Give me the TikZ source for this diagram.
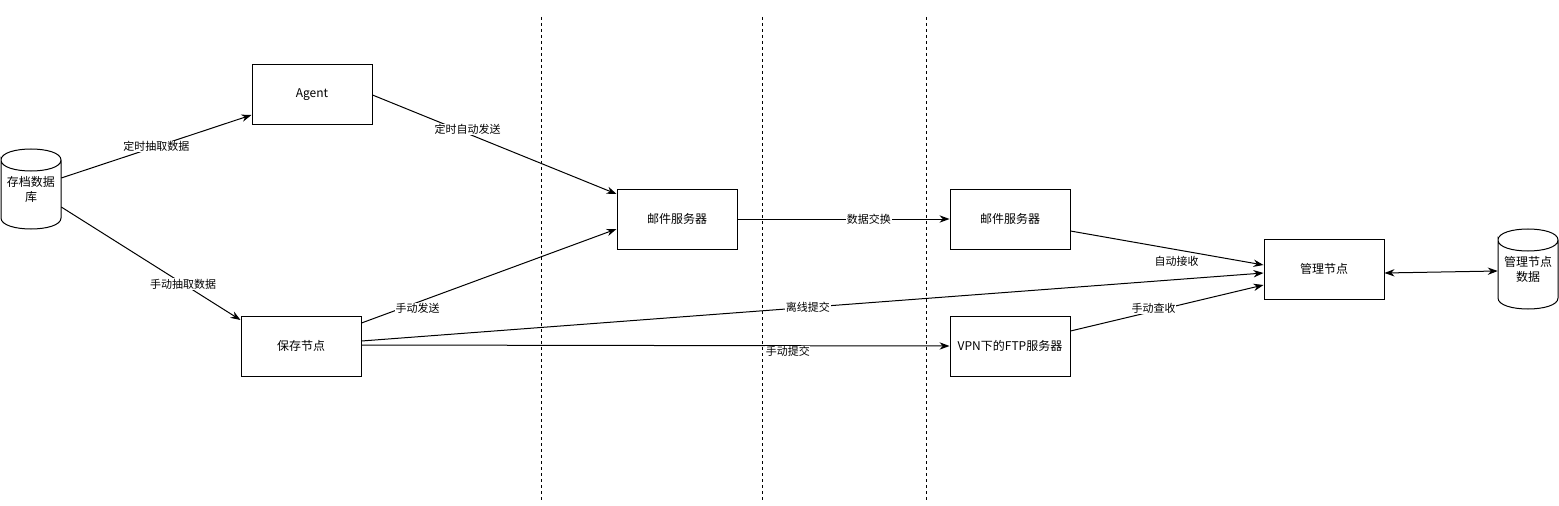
\documentclass[tikz,border=0pt]{standalone}
\usepackage{fontspec}
\setmainfont{Noto Sans CJK SC}
\usetikzlibrary{arrows.meta,calc}
\begin{document}
\begin{tikzpicture}[x=0.75pt,y=-0.75pt,
  box/.style={draw,line width=0.75pt,minimum width=90pt,minimum height=45pt,inner sep=0pt,font=\fontsize{9pt}{11pt}\selectfont},
  dbtext/.style={minimum width=45pt,minimum height=60pt,inner sep=0pt,align=center,font=\fontsize{9pt}{11.25pt}\selectfont},
  conn/.style={line width=0.75pt,-{Stealth[length=7.5pt,width=5.5pt]}},
  biconn/.style={line width=0.75pt,{Stealth[length=7.5pt,width=5.5pt]}-{Stealth[length=7.5pt,width=5.5pt]}},
  lbl/.style={fill=white,inner sep=0.5pt,font=\fontsize{8.25pt}{10pt}\selectfont},
  sepline/.style={line width=0.75pt,dash pattern=on 2.25pt off 2.25pt},
  dbshape/.style={line width=0.75pt,fill=white}]
\useasboundingbox (0,0) rectangle (1559,506);

% separators
\coordinate (s1t) at (541,17); \coordinate (s1b) at (541,500);
\coordinate (s2t) at (762,17); \coordinate (s2b) at (762,500);
\coordinate (s3t) at (926,17); \coordinate (s3b) at (926,500);
\draw[sepline] (s1t) -- (s1b);
\draw[sepline] (s2t) -- (s2b);
\draw[sepline] (s3t) -- (s3b);

% cylinders
\draw[dbshape] (1,160) .. controls (1,145.33) and (61,145.33) .. (61,160)
  .. controls (61,174.67) and (1,174.67) .. (1,160) -- (1,218)
  .. controls (1,232.67) and (61,232.67) .. (61,218) -- (61,160);
\node[dbtext] (db1) at (31,189) {存档数据\\库};

\draw[dbshape] (1498,240) .. controls (1498,225.33) and (1558,225.33) .. (1558,240)
  .. controls (1558,254.67) and (1498,254.67) .. (1498,240) -- (1498,298)
  .. controls (1498,312.67) and (1558,312.67) .. (1558,298) -- (1558,240);
\node[dbtext] (db2) at (1528,269) {管理节点\\数据};

% boxes
\node[box] (agent) at (312,95) {Agent};
\node[box] (mail1) at (677,219) {邮件服务器};
\node[box] (mail2) at (1010,219) {邮件服务器};
\node[box] (mgmt) at (1324,269) {管理节点};
\node[box] (save) at (301,346) {保存节点};
\node[box] (vpn) at (1010,346) {VPN下的FTP服务器};

% connectors
\draw[conn] ($(db1.east)+(0,-11)$) -- node[lbl,pos=0.5]{定时抽取数据} ($(agent.west)+(0,20)$);
\draw[conn] ($(db1.east)+(0,18)$) -- node[lbl,pos=0.68]{手动抽取数据} ($(save.west)+(0,-26)$);
\draw[conn] (agent.east) -- node[lbl,pos=0.39,yshift=3pt]{定时自动发送} ($(mail1.west)+(0,-25)$);
\draw[conn] ($(save.east)+(0,-23)$) -- node[lbl,pos=0.22,yshift=-4.5pt]{手动发送} ($(mail1.west)+(0,10)$);
\draw[conn] ($(save.east)+(0,-5)$) -- node[lbl,pos=0.495]{离线提交} ($(mgmt.west)+(0,4)$);
\draw[conn] ($(save.east)+(0,-1)$) -- node[lbl,pos=0.725,yshift=-4.5pt]{手动提交} (vpn.west);
\draw[conn] (mail1.east) -- node[lbl,pos=0.62]{数据交换} (mail2.west);
\draw[conn] ($(mail2.east)+(0,12)$) -- node[lbl,pos=0.55,yshift=-9pt]{自动接收} ($(mgmt.west)+(0,-4)$);
\draw[conn] ($(vpn.east)+(0,-15)$) -- node[lbl,pos=0.43,yshift=2pt]{手动查收} ($(mgmt.west)+(0,16)$);
\draw[biconn] ($(mgmt.east)+(0,4)$) -- ($(db2.west)+(0,2)$);
\end{tikzpicture}
\end{document}
